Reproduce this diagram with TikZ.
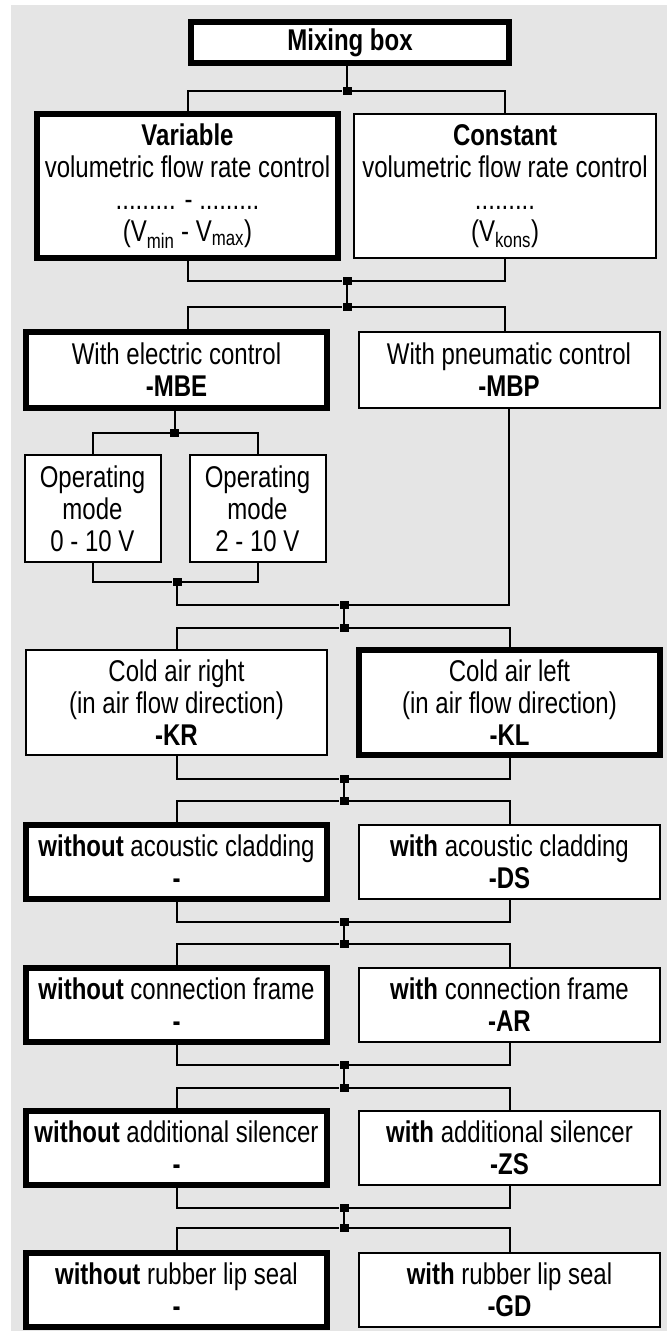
\documentclass[tikz,border=0pt]{standalone}
\usepackage{fontspec}
\setmainfont{Liberation Sans}[FakeStretch=0.8]
\usetikzlibrary{positioning}
\definecolor{panelgray}{RGB}{229,229,229}

\tikzset{
  optbox/.style={draw, fill=white, line width=2pt, inner sep=0pt, align=center,
    font=\fontsize{30}{32}\selectfont, minimum width=301pt},
  chosen/.style={optbox, line width=6pt},
  knot/.style={fill=black, inner sep=0pt, minimum width=9pt, minimum height=8pt},
  link/.style={line width=2pt},
}

\begin{document}
\begin{tikzpicture}[x=1pt, y=-1pt]
  \useasboundingbox (0,0) rectangle (667,1331);
  \fill[panelgray] (10.6,5) rectangle (667,1331);

  % Option boxes, top to bottom
  \node[chosen, minimum width=318pt, minimum height=41pt] (mix) at (350,42.5) {\textbf{Mixing box}};
  \node[chosen, minimum height=144pt] (var) at (187.5,186)
    {\textbf{Variable}\\volumetric flow rate control\\......... - .........\\(V\textsubscript{min} - V\textsubscript{max})};
  \node[optbox, minimum width=302pt, minimum height=144pt] (const) at (505,186)
    {\textbf{Constant}\\volumetric flow rate control\\.........\\(V\textsubscript{kons})};
  \node[chosen, minimum height=76pt] (mbe) at (176.5,370) {With electric control\\\textbf{-MBE}};
  \node[optbox, minimum height=76pt] (mbp) at (509,370) {With pneumatic control\\\textbf{-MBP}};
  \node[optbox, minimum width=136pt, minimum height=107pt] (mode0) at (92.5,508.5) {Operating\\mode\\0 - 10 V};
  \node[optbox, minimum width=136pt, minimum height=107pt] (mode2) at (257.5,508.5) {Operating\\mode\\2 - 10 V};
  \node[optbox, minimum height=105pt] (kr) at (176.5,702.5) {Cold air right\\(in air flow direction)\\\textbf{-KR}};
  \node[chosen, minimum height=105pt] (kl) at (509.5,702.5) {Cold air left\\(in air flow direction)\\\textbf{-KL}};
  \node[chosen, minimum height=74pt] (nods) at (176.5,862) {\textbf{without} acoustic cladding\\\textbf{-}};
  \node[optbox, minimum height=74pt] (ds) at (509.5,862) {\textbf{with} acoustic cladding\\\textbf{-DS}};
  \node[chosen, minimum height=74pt] (noar) at (176.5,1005) {\textbf{without} connection frame\\\textbf{-}};
  \node[optbox, minimum height=74pt] (ar) at (509.5,1005) {\textbf{with} connection frame\\\textbf{-AR}};
  \node[chosen, minimum height=74pt] (nozs) at (176.5,1148) {\textbf{without} additional silencer\\\textbf{-}};
  \node[optbox, minimum height=74pt] (zs) at (509.5,1148) {\textbf{with} additional silencer\\\textbf{-ZS}};
  \node[chosen, minimum height=74pt] (nogd) at (176.5,1290) {\textbf{without} rubber lip seal\\\textbf{-}};
  \node[optbox, minimum height=74pt] (gd) at (509.5,1290) {\textbf{with} rubber lip seal\\\textbf{-GD}};

  % Junction points
  \node[knot] (j0) at (347,91) {};
  \node[knot] (j1) at (347,281) {};
  \node[knot] (j2) at (347,307) {};
  \node[knot] (j3) at (174.5,433) {};
  \node[knot] (j4) at (177,582) {};
  \node[knot] (j5) at (344,605) {};
  \node[knot] (j6) at (344,628) {};
  \node[knot] (j7) at (344,779) {};
  \node[knot] (j8) at (344,801) {};
  \node[knot] (j9) at (344,922) {};
  \node[knot] (j10) at (344,944) {};
  \node[knot] (j11) at (344,1065) {};
  \node[knot] (j12) at (344,1088) {};
  \node[knot] (j13) at (344,1208) {};
  \node[knot] (j14) at (344,1228) {};

  % Branch lines
  \draw[link] (j0 |- mix.south) -- (j0);
  \draw[link] (var.north) |- (j0) -| (const.north);
  \draw[link] (var.south) |- (j1) -| (const.south);
  \draw[link] (j1) -- (j2);
  \draw[link] (mbe.north -| var.south) |- (j2) -| (mbp.north -| const.south);
  \draw[link] (j3 |- mbe.south) -- (j3);
  \draw[link] (mode0.north) |- (j3) -| (mode2.north);
  \draw[link] (mode0.south) |- (j4) -| (mode2.south);
  \draw[link] (j4) |- (j5) -| (mbp.south);
  \draw[link] (j5) -- (j6);
  \draw[link] (kr.north) |- (j6) -| (kl.north);
  \draw[link] (kr.south) |- (j7) -| (kl.south);
  \draw[link] (j7) -- (j8);
  \draw[link] (nods.north) |- (j8) -| (ds.north);
  \draw[link] (nods.south) |- (j9) -| (ds.south);
  \draw[link] (j9) -- (j10);
  \draw[link] (noar.north) |- (j10) -| (ar.north);
  \draw[link] (noar.south) |- (j11) -| (ar.south);
  \draw[link] (j11) -- (j12);
  \draw[link] (nozs.north) |- (j12) -| (zs.north);
  \draw[link] (nozs.south) |- (j13) -| (zs.south);
  \draw[link] (j13) -- (j14);
  \draw[link] (nogd.north) |- (j14) -| (gd.north);
\end{tikzpicture}
\end{document}
